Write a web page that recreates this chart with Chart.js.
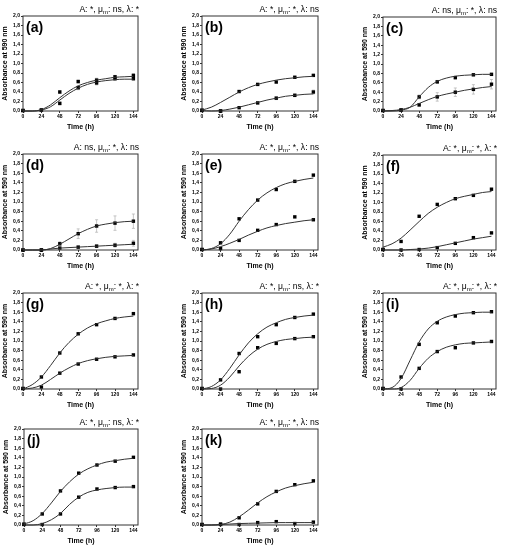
<!DOCTYPE html>
<html>
<head>
<meta charset="utf-8">
<script src="https://cdn.jsdelivr.net/npm/chart.js"></script>
<style>
  body { margin: 0; background: #fff; width: 507px; height: 550px; position: relative; overflow: hidden; }
  canvas { position: absolute; }
</style>
</head>
<body>
<script>
// time grids (h)
var curveTimes = [0, 12, 24, 36, 48, 60, 72, 84, 96, 108, 120, 132, 144];
var sampleTimes = [0, 24, 48, 72, 96, 120, 144];
var xTicks = [0, 24, 48, 72, 96, 120, 144];
var yTicks = [0, 0.2, 0.4, 0.6, 0.8, 1.0, 1.2, 1.4, 1.6, 1.8, 2.0];

var panelLabels = ['(a)', '(b)', '(c)', '(d)', '(e)', '(f)', '(g)', '(h)', '(i)', '(j)', '(k)'];
var sigA      = ['*', '*', 'ns', 'ns', '*', '*', '*', '*', '*', '*', '*'];
var sigMu     = ['ns', '*', '*', '*', '*', '*', '*', 'ns', '*', 'ns', '*'];
var sigLambda = ['*', 'ns', 'ns', 'ns', 'ns', '*', '*', '*', '*', '*', 'ns'];

// fitted curves (read at curveTimes) and measured absorbance (at sampleTimes)
var aFitHigh = [0, 0.00, 0.03, 0.13, 0.28, 0.42, 0.53, 0.60, 0.65, 0.68, 0.71, 0.72, 0.73];
var aFitLow  = [0, 0.00, 0.02, 0.09, 0.23, 0.37, 0.48, 0.56, 0.61, 0.64, 0.66, 0.67, 0.67];
var aObsHigh = [0.01, 0.02, 0.40, 0.62, 0.65, 0.72, 0.75];
var aObsLow  = [0.01, 0.02, 0.16, 0.49, 0.59, 0.68, 0.68];
var aErrHigh = [0, 0, 0.03, 0.03, 0.04, 0.03, 0.03];
var aErrLow  = [0, 0, 0.03, 0.04, 0.04, 0.03, 0.03];

var bFitHigh = [0.02, 0.08, 0.18, 0.29, 0.40, 0.49, 0.56, 0.61, 0.65, 0.68, 0.70, 0.72, 0.73];
var bFitLow  = [0.01, 0.00, 0.01, 0.04, 0.08, 0.13, 0.18, 0.23, 0.27, 0.31, 0.33, 0.35, 0.36];
var bObsHigh = [0.02, 0.00, 0.41, 0.56, 0.61, 0.71, 0.75];
var bObsLow  = [0.01, 0.00, 0.07, 0.17, 0.27, 0.33, 0.40];
var bErrHigh = [0, 0, 0.02, 0.02, 0.02, 0.02, 0.02];
var bErrLow  = [0, 0, 0, 0.02, 0.03, 0.03, 0.04];

var cFitHigh = [0, 0.00, 0.02, 0.08, 0.30, 0.50, 0.63, 0.70, 0.74, 0.76, 0.77, 0.78, 0.78];
var cFitLow  = [0, 0.01, 0.03, 0.08, 0.16, 0.24, 0.31, 0.36, 0.40, 0.44, 0.47, 0.50, 0.52];
var cObsHigh = [0.01, 0.02, 0.30, 0.62, 0.71, 0.77, 0.78];
var cObsLow  = [0.01, 0.02, 0.13, 0.30, 0.40, 0.46, 0.57];
var cErrHigh = [0, 0, 0.04, 0.03, 0.03, 0.02, 0.02];
var cErrLow  = [0, 0, 0.03, 0.09, 0.09, 0.10, 0.10];

var dFitHigh = [0, 0.00, 0.00, 0.03, 0.12, 0.23, 0.34, 0.43, 0.50, 0.54, 0.57, 0.59, 0.60];
var dFitLow  = [0, 0.00, 0.00, 0.02, 0.04, 0.05, 0.06, 0.07, 0.08, 0.09, 0.10, 0.11, 0.12];
var dObsHigh = [0.00, 0.00, 0.13, 0.34, 0.50, 0.56, 0.60];
var dObsLow  = [0.00, 0.00, 0.04, 0.06, 0.08, 0.10, 0.14];
var dErrHigh = [0, 0, 0.04, 0.10, 0.13, 0.15, 0.15];
var dErrLow  = [0, 0, 0.01, 0.02, 0.03, 0.04, 0.06];

var eFitHigh = [0, 0.03, 0.13, 0.33, 0.60, 0.84, 1.04, 1.19, 1.30, 1.38, 1.43, 1.47, 1.50];
var eFitLow  = [0, 0.02, 0.07, 0.14, 0.22, 0.31, 0.39, 0.46, 0.51, 0.55, 0.58, 0.61, 0.63];
var eObsHigh = [0.01, 0.15, 0.65, 1.04, 1.26, 1.43, 1.56];
var eObsLow  = [0.01, 0.03, 0.20, 0.41, 0.53, 0.69, 0.63];

var fFitHigh = [0.06, 0.13, 0.25, 0.42, 0.60, 0.77, 0.90, 1.00, 1.08, 1.13, 1.17, 1.21, 1.23];
var fFitLow  = [0, 0.00, 0.00, 0.01, 0.02, 0.04, 0.07, 0.11, 0.15, 0.19, 0.23, 0.26, 0.29];
var fObsHigh = [0.01, 0.18, 0.71, 0.96, 1.08, 1.15, 1.28];
var fObsLow  = [0.01, 0.00, 0.01, 0.05, 0.14, 0.26, 0.36];

var gFitHigh = [0, 0.09, 0.25, 0.49, 0.75, 0.97, 1.14, 1.27, 1.36, 1.42, 1.47, 1.50, 1.52];
var gFitLow  = [0, 0.02, 0.08, 0.20, 0.33, 0.44, 0.53, 0.59, 0.63, 0.66, 0.68, 0.69, 0.70];
var gObsHigh = [0.01, 0.25, 0.75, 1.15, 1.34, 1.47, 1.57];
var gObsLow  = [0.01, 0.04, 0.33, 0.52, 0.62, 0.67, 0.71];

var hFitHigh = [0, 0.05, 0.19, 0.43, 0.71, 0.96, 1.15, 1.29, 1.38, 1.45, 1.49, 1.52, 1.54];
var hFitLow  = [0, 0.01, 0.08, 0.25, 0.48, 0.68, 0.83, 0.93, 0.99, 1.03, 1.05, 1.07, 1.08];
var hObsHigh = [0.01, 0.19, 0.74, 1.09, 1.34, 1.49, 1.56];
var hObsLow  = [0.01, 0.00, 0.36, 0.86, 0.95, 1.05, 1.09];

var iFitHigh = [0, 0.03, 0.22, 0.60, 0.98, 1.25, 1.41, 1.50, 1.55, 1.58, 1.59, 1.60, 1.60];
var iFitLow  = [0, 0.00, 0.03, 0.18, 0.43, 0.64, 0.78, 0.87, 0.92, 0.95, 0.96, 0.97, 0.98];
var iObsHigh = [0.01, 0.25, 0.93, 1.38, 1.52, 1.59, 1.61];
var iObsLow  = [0.01, 0.00, 0.43, 0.78, 0.86, 0.96, 0.99];

var jFitHigh = [0.02, 0.09, 0.24, 0.46, 0.70, 0.90, 1.06, 1.17, 1.25, 1.31, 1.34, 1.37, 1.39];
var jFitLow  = [0, 0.00, 0.03, 0.11, 0.24, 0.43, 0.58, 0.68, 0.73, 0.76, 0.78, 0.79, 0.79];
var jObsHigh = [0.02, 0.23, 0.71, 1.08, 1.25, 1.33, 1.41];
var jObsLow  = [0.01, 0.01, 0.23, 0.58, 0.75, 0.78, 0.80];

var kFitHigh = [0, 0.00, 0.01, 0.06, 0.17, 0.31, 0.46, 0.59, 0.69, 0.77, 0.82, 0.86, 0.89];
var kFitLow  = [0, 0.00, 0.01, 0.02, 0.03, 0.035, 0.04, 0.045, 0.05, 0.05, 0.05, 0.05, 0.05];
var kObsHigh = [0.01, 0.02, 0.15, 0.44, 0.70, 0.84, 0.92];
var kObsLow  = [0.01, 0.01, 0.01, 0.05, 0.07, 0.03, 0.06];

var noErr = [0, 0, 0, 0, 0, 0, 0];

var panels = [
  { fits: [aFitHigh, aFitLow], obs: [aObsHigh, aObsLow], errs: [aErrHigh, aErrLow] },
  { fits: [bFitHigh, bFitLow], obs: [bObsHigh, bObsLow], errs: [bErrHigh, bErrLow] },
  { fits: [cFitHigh, cFitLow], obs: [cObsHigh, cObsLow], errs: [cErrHigh, cErrLow] },
  { fits: [dFitHigh, dFitLow], obs: [dObsHigh, dObsLow], errs: [dErrHigh, dErrLow] },
  { fits: [eFitHigh, eFitLow], obs: [eObsHigh, eObsLow], errs: [noErr, noErr] },
  { fits: [fFitHigh, fFitLow], obs: [fObsHigh, fObsLow], errs: [noErr, noErr] },
  { fits: [gFitHigh, gFitLow], obs: [gObsHigh, gObsLow], errs: [noErr, noErr] },
  { fits: [hFitHigh, hFitLow], obs: [hObsHigh, hObsLow], errs: [noErr, noErr] },
  { fits: [iFitHigh, iFitLow], obs: [iObsHigh, iObsLow], errs: [noErr, noErr] },
  { fits: [jFitHigh, jFitLow], obs: [jObsHigh, jObsLow], errs: [noErr, noErr] },
  { fits: [kFitHigh, kFitLow], obs: [kObsHigh, kObsLow], errs: [noErr, noErr] }
];

// plot frame of each panel on the page: left, top, right, bottom
var frames = [
  [23, 16, 138, 111], [202, 16, 318, 111], [383, 17, 496, 111],
  [23, 154, 138, 250], [202, 154, 318, 250], [383, 155, 496, 250],
  [23, 293, 138, 389], [202, 293, 318, 389], [383, 293, 496, 389],
  [24, 429, 138, 525], [202, 429, 318, 525]
];

var FAMILY = '"Liberation Sans", Arial, sans-serif';
var Y_AXIS_W = 23, TOP_PAD = 16, RIGHT_PAD = 6, X_AXIS_H = 22;

function toPoints(xs, ys) {
  return xs.map(function (x, i) { return { x: x, y: ys[i] }; });
}

function makeDecor(idx, errs) {
  return {
    id: 'panelDecor' + idx,
    beforeDatasetsDraw: function (chart) {
      var ctx = chart.ctx, xs = chart.scales.x, ys = chart.scales.y;
      ctx.save();
      ctx.strokeStyle = '#b8b8b8';
      ctx.lineWidth = 0.8;
      [1, 3].forEach(function (dsIndex, k) {
        var vals = chart.data.datasets[dsIndex].data;
        vals.forEach(function (p, i) {
          var e = errs[k][i];
          if (!e) return;
          var px = xs.getPixelForValue(p.x);
          var y1 = ys.getPixelForValue(p.y - e), y2 = ys.getPixelForValue(p.y + e);
          ctx.beginPath();
          ctx.moveTo(px, y1); ctx.lineTo(px, y2);
          ctx.moveTo(px - 1.5, y1); ctx.lineTo(px + 1.5, y1);
          ctx.moveTo(px - 1.5, y2); ctx.lineTo(px + 1.5, y2);
          ctx.stroke();
        });
      });
      ctx.restore();
    },
    afterDraw: function (chart) {
      var ctx = chart.ctx, area = chart.chartArea;
      ctx.save();
      // box frame
      ctx.strokeStyle = '#333';
      ctx.lineWidth = 1;
      ctx.strokeRect(area.left, area.top, area.right - area.left, area.bottom - area.top);
      // panel letter
      ctx.fillStyle = '#000';
      ctx.textBaseline = 'middle';
      ctx.textAlign = 'left';
      ctx.font = 'bold 14px ' + FAMILY;
      ctx.fillText(panelLabels[idx], area.left + 3, area.top + 12);
      // significance title with subscript m
      var big = '8.6px ' + FAMILY, small = '6px ' + FAMILY;
      var parts = [
        ['A: ' + sigA[idx] + ', \u03bc', big, 0],
        ['m', small, 2.5],
        [': ' + sigMu[idx] + ', \u03bb: ' + sigLambda[idx], big, 0]
      ];
      var total = 0;
      parts.forEach(function (p) { ctx.font = p[1]; p.w = ctx.measureText(p[0]).width; total += p.w; });
      var x = area.right + 1 - total, y = area.top - 6;
      parts.forEach(function (p) {
        ctx.font = p[1];
        ctx.fillText(p[0], x, y + p[2]);
        x += p.w;
      });
      ctx.restore();
    }
  };
}

panels.forEach(function (p, idx) {
  var f = frames[idx];
  var canvas = document.createElement('canvas');
  var w = (f[2] - f[0]) + Y_AXIS_W + RIGHT_PAD;
  var h = (f[3] - f[1]) + TOP_PAD + X_AXIS_H;
  canvas.width = w;
  canvas.height = h;
  canvas.style.width = w + 'px';
  canvas.style.height = h + 'px';
  canvas.style.left = (f[0] - Y_AXIS_W) + 'px';
  canvas.style.top = (f[1] - TOP_PAD) + 'px';
  document.body.appendChild(canvas);

  var lineStyle = function (ys) {
    return {
      data: toPoints(curveTimes, ys),
      borderColor: '#333',
      borderWidth: 1,
      pointRadius: 0,
      cubicInterpolationMode: 'monotone',
      fill: false,
      clip: false
    };
  };
  var markStyle = function (ys) {
    return {
      data: toPoints(sampleTimes, ys),
      showLine: false,
      pointStyle: 'rect',
      pointRadius: 2.4,
      backgroundColor: '#000',
      borderColor: '#000',
      borderWidth: 0,
      clip: false
    };
  };

  new Chart(canvas.getContext('2d'), {
    type: 'line',
    data: {
      datasets: [
        lineStyle(p.fits[0]), markStyle(p.obs[0]),
        lineStyle(p.fits[1]), markStyle(p.obs[1])
      ]
    },
    options: {
      responsive: false,
      animation: false,
      events: [],
      layout: { padding: { top: TOP_PAD, right: RIGHT_PAD, left: 0, bottom: 0 } },
      plugins: { legend: { display: false }, tooltip: { enabled: false } },
      scales: {
        x: {
          type: 'linear',
          min: 0,
          max: 150,
          afterBuildTicks: function (s) { s.ticks = xTicks.map(function (v) { return { value: v }; }); },
          afterFit: function (s) { s.height = X_AXIS_H; },
          ticks: { font: { family: FAMILY, size: 5, weight: 'bold' }, color: '#000', padding: 1, maxRotation: 0, autoSkip: false },
          grid: { drawOnChartArea: false, tickLength: 2, color: '#333' },
          border: { display: false },
          title: { display: true, text: 'Time (h)', color: '#000', font: { family: FAMILY, size: 7, weight: 'bold' }, padding: { top: 0, bottom: 2.2 } }
        },
        y: {
          min: 0,
          max: 2,
          afterBuildTicks: function (s) { s.ticks = yTicks.map(function (v) { return { value: v }; }); },
          afterFit: function (s) { s.width = Y_AXIS_W; },
          ticks: {
            font: { family: FAMILY, size: 5, weight: 'bold' }, color: '#000', padding: 1,
            callback: function (v) { return Number(v).toFixed(1).replace('.', ','); }
          },
          grid: { drawOnChartArea: false, tickLength: 2, color: '#333' },
          border: { display: false },
          title: { display: true, text: 'Absorbance at 590 nm', color: '#000', font: { family: FAMILY, size: 7, weight: 'bold' }, padding: { top: 0.8, bottom: 0 } }
        }
      }
    },
    plugins: [makeDecor(idx, p.errs)]
  });
});
</script>
</body>
</html>
